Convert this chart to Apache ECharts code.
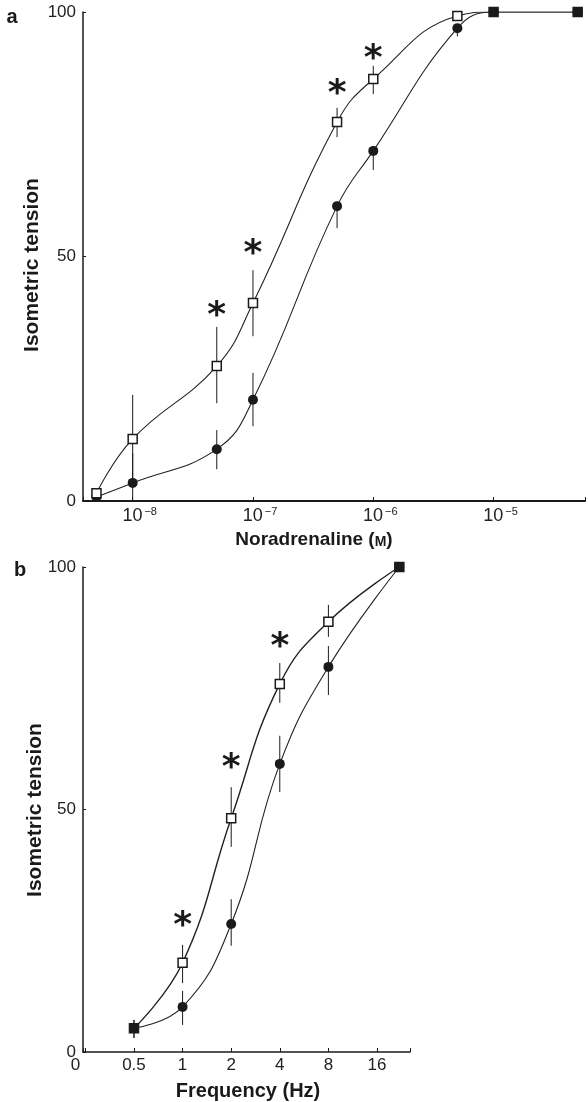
<!DOCTYPE html>
<html><head><meta charset="utf-8">
<script src="https://cdn.jsdelivr.net/npm/echarts@6/dist/echarts.min.js"></script>
<style>html,body{margin:0;padding:0;background:#fff}#c{width:588px;height:1102px}</style>
</head><body><div id="c"></div><script>
// ---- Panel a: noradrenaline concentration (M) ----
const concA    = [5e-9, 1e-8, 5e-8, 1e-7, 5e-7, 1e-6, 5e-6, 1e-5, 5e-5];
const openA    = [1.6, 12.7, 27.6, 40.5, 77.5, 86.3, 99.2, 100, 100];
const openAHi  = [null, 21.7, 35.6, 47.2, 80.4, 89.0, null, null, null];
const openALo  = [null, 3.7, 20.0, 33.7, 74.4, 83.2, null, null, null];
const filledA  = [0.8, 3.7, 10.6, 20.7, 60.3, 71.6, 96.7, 100, 100];
const filledAHi= [null, 9.8, 14.5, 26.2, 61.0, 72.5, 97.3, null, null];
const filledALo= [null, 0, 6.5, 15.3, 55.8, 67.7, 95.0, null, null];
const starsA   = [[5e-8, 39.1], [1e-7, 51.9], [5e-7, 84.5], [1e-6, 91.6]];

// ---- Panel b: stimulation frequency (Hz) ----
const freqB    = [0.5, 1, 2, 4, 8, 22];
const openB    = [4.9, 18.4, 48.2, 75.9, 88.7, 100];
const openBHi  = [6.6, 22.1, 54.6, 80.2, 92.2, null];
const openBLo  = [2.9, 14.2, 42.3, 72.0, 85.6, null];
const filledB  = [4.9, 9.3, 26.4, 59.4, 79.4, 100];
const filledBHi= [6.6, 12.6, 31.5, 65.2, 83.7, null];
const filledBLo= [2.9, 5.6, 21.9, 53.6, 73.6, null];
const starsB   = [[1, 27.2], [2, 59.8], [4, 84.9]];

const yTicks = [0, 50, 100];
const FONT = 'Liberation Sans';
const INK = '#1a1a1a';

function pts(xs, ys) { return xs.map((x, i) => [x, ys[i]]); }
function squares(xs, ys, other) {
  return xs.map((x, i) => ys[i] === other[i]
    ? { value: [x, ys[i]], itemStyle: { color: INK } }
    : [x, ys[i]]);
}
function bars(xs, lo, hi) {
  const out = [];
  xs.forEach((x, i) => { if (hi[i] != null && lo[i] != null) out.push([x, lo[i], hi[i]]); });
  return out;
}
function errRender(params, api) {
  const p1 = api.coord([api.value(0), api.value(1)]);
  const p2 = api.coord([api.value(0), api.value(2)]);
  return { type: 'line', shape: { x1: p1[0], y1: p1[1], x2: p2[0], y2: p2[1] },
           style: { stroke: INK, lineWidth: 1 } };
}
function starRender(params, api) {
  const p = api.coord([api.value(0), api.value(1)]);
  return { type: 'text', x: p[0], y: p[1] + 7,
           style: { text: '*', fill: INK, font: 'bold 36px "DejaVu Sans"', align: 'center', verticalAlign: 'middle' } };
}
function isPow(v, base) {
  const e = Math.log(v) / Math.log(base);
  return Math.abs(e - Math.round(e)) < 1e-6;
}

const yAxisCommon = {
  type: 'value', min: 0, max: 100, interval: 50,
  axisLine: { show: true, lineStyle: { color: INK, width: 1.5 } },
  axisTick: { show: true, inside: true, length: 3, lineStyle: { color: INK } },
  splitLine: { show: false },
  axisLabel: { fontSize: 17, color: '#222', fontFamily: FONT, margin: 7,
               formatter: v => yTicks.includes(v) ? String(v) : '' }
};

const option = {
  backgroundColor: '#fff',
  animation: false,
  textStyle: { fontFamily: FONT },
  grid: [
    { left: 83, top: 12, width: 505, height: 489, containLabel: false },
    { left: 83, top: 567, width: 327, height: 485, containLabel: false }
  ],
  xAxis: [
    { type: 'log', logBase: 10, gridIndex: 0,
      min: Math.pow(10, -8.413), max: Math.pow(10, -4.240),
      axisLine: { show: true, lineStyle: { color: INK, width: 2 } },
      axisTick: { show: true, inside: true, length: 4, lineStyle: { color: INK } },
      minorTick: { show: false }, splitLine: { show: false },
      axisLabel: {
        margin: 5, color: '#222',
        formatter: v => isPow(v, 10) ? '{b|10}{s|\u2212' + Math.abs(Math.round(Math.log10(v))) + '}' : '',
        rich: {
          b: { fontSize: 18, lineHeight: 20, fontFamily: FONT, color: '#222', padding: [0, 0, 0, 14] },
          s: { fontSize: 11, lineHeight: 10, fontFamily: FONT, color: '#222', verticalAlign: 'top', padding: [0, 0, 0, 2] }
        }
      }
    },
    { type: 'log', logBase: 2, gridIndex: 1,
      min: Math.pow(2, -2.049), max: Math.pow(2, 4.679),
      axisLine: { show: true, lineStyle: { color: INK, width: 1.5 } },
      axisTick: { show: true, inside: true, length: 4, lineStyle: { color: INK } },
      minorTick: { show: false }, splitLine: { show: false },
      axisLabel: {
        margin: 5, color: '#222', fontSize: 17, fontFamily: FONT,
        formatter: v => {
          if (!isPow(v, 2)) return '';
          if (Math.abs(v - 0.25) < 1e-9) return '{z|0}';
          return String(+v.toFixed(2));
        },
        rich: { z: { fontSize: 17, fontFamily: FONT, color: '#222', padding: [0, 20, 0, 0] } }
      }
    }
  ],
  yAxis: [
    Object.assign({ gridIndex: 0 }, yAxisCommon),
    Object.assign({ gridIndex: 1 }, yAxisCommon)
  ],
  series: [
    // error bars
    { type: 'custom', xAxisIndex: 0, yAxisIndex: 0, renderItem: errRender, z: 2,
      encode: { x: 0, y: [1, 2] }, data: bars(concA, openALo, openAHi) },
    { type: 'custom', xAxisIndex: 0, yAxisIndex: 0, renderItem: errRender, z: 2,
      encode: { x: 0, y: [1, 2] }, data: bars(concA, filledALo, filledAHi) },
    { type: 'custom', xAxisIndex: 1, yAxisIndex: 1, renderItem: errRender, z: 2,
      encode: { x: 0, y: [1, 2] }, data: bars(freqB, openBLo, openBHi) },
    { type: 'custom', xAxisIndex: 1, yAxisIndex: 1, renderItem: errRender, z: 2,
      encode: { x: 0, y: [1, 2] }, data: bars(freqB, filledBLo, filledBHi) },
    // panel a curves
    { type: 'line', xAxisIndex: 0, yAxisIndex: 0, z: 3, smooth: 0.45,
      symbol: 'circle', symbolSize: 10, showAllSymbol: true,
      itemStyle: { color: INK }, lineStyle: { color: '#222', width: 1.1 },
      data: pts(concA, filledA) },
    { type: 'line', xAxisIndex: 0, yAxisIndex: 0, z: 4, smooth: 0.45,
      symbol: 'rect', symbolSize: 9, showAllSymbol: true,
      itemStyle: { color: '#fff', borderColor: INK, borderWidth: 1.5 },
      lineStyle: { color: '#222', width: 1.1 },
      data: squares(concA, openA, filledA) },
    // panel b curves
    { type: 'line', xAxisIndex: 1, yAxisIndex: 1, z: 3, smooth: 0.45,
      symbol: 'circle', symbolSize: 10, showAllSymbol: true,
      itemStyle: { color: INK }, lineStyle: { color: '#222', width: 1.1 },
      data: pts(freqB, filledB) },
    { type: 'line', xAxisIndex: 1, yAxisIndex: 1, z: 4, smooth: 0.45,
      symbol: 'rect', symbolSize: 9, showAllSymbol: true,
      itemStyle: { color: '#fff', borderColor: INK, borderWidth: 1.5 },
      lineStyle: { color: '#222', width: 1.4 },
      data: squares(freqB, openB, filledB) },
    // significance stars
    { type: 'custom', xAxisIndex: 0, yAxisIndex: 0, renderItem: starRender, z: 5, data: starsA },
    { type: 'custom', xAxisIndex: 1, yAxisIndex: 1, renderItem: starRender, z: 5, data: starsB }
  ],
  graphic: [
    { type: 'text', x: 12, y: 17, style: { text: 'a', font: 'bold 20px "Liberation Sans"', fill: INK, align: 'center', verticalAlign: 'middle' } },
    { type: 'text', x: 20, y: 570, style: { text: 'b', font: 'bold 20px "Liberation Sans"', fill: INK, align: 'center', verticalAlign: 'middle' } },
    { type: 'text', x: 32, y: 265, rotation: Math.PI / 2,
      style: { text: 'Isometric tension', font: 'bold 21px "Liberation Sans"', fill: INK, align: 'center', verticalAlign: 'middle' } },
    { type: 'text', x: 35, y: 810, rotation: Math.PI / 2,
      style: { text: 'Isometric tension', font: 'bold 21px "Liberation Sans"', fill: INK, align: 'center', verticalAlign: 'middle' } },
    { type: 'text', x: 314, y: 538,
      style: { text: '{a|Noradrenaline (}{m|M}{a|)}', align: 'center', verticalAlign: 'middle',
        rich: { a: { font: 'bold 19px "Liberation Sans"', fill: INK, color: INK, lineHeight: 22, verticalAlign: 'bottom' },
                m: { font: 'bold 14px "Liberation Sans"', fill: INK, color: INK, lineHeight: 18, verticalAlign: 'bottom' } } } },
    { type: 'text', x: 248, y: 1091,
      style: { text: 'Frequency (Hz)', font: 'bold 20px "Liberation Sans"', fill: INK, align: 'center', verticalAlign: 'middle' } }
  ]
};

const chart = echarts.init(document.getElementById('c'), null, { renderer: 'canvas' });
chart.setOption(option);
</script></body></html>
